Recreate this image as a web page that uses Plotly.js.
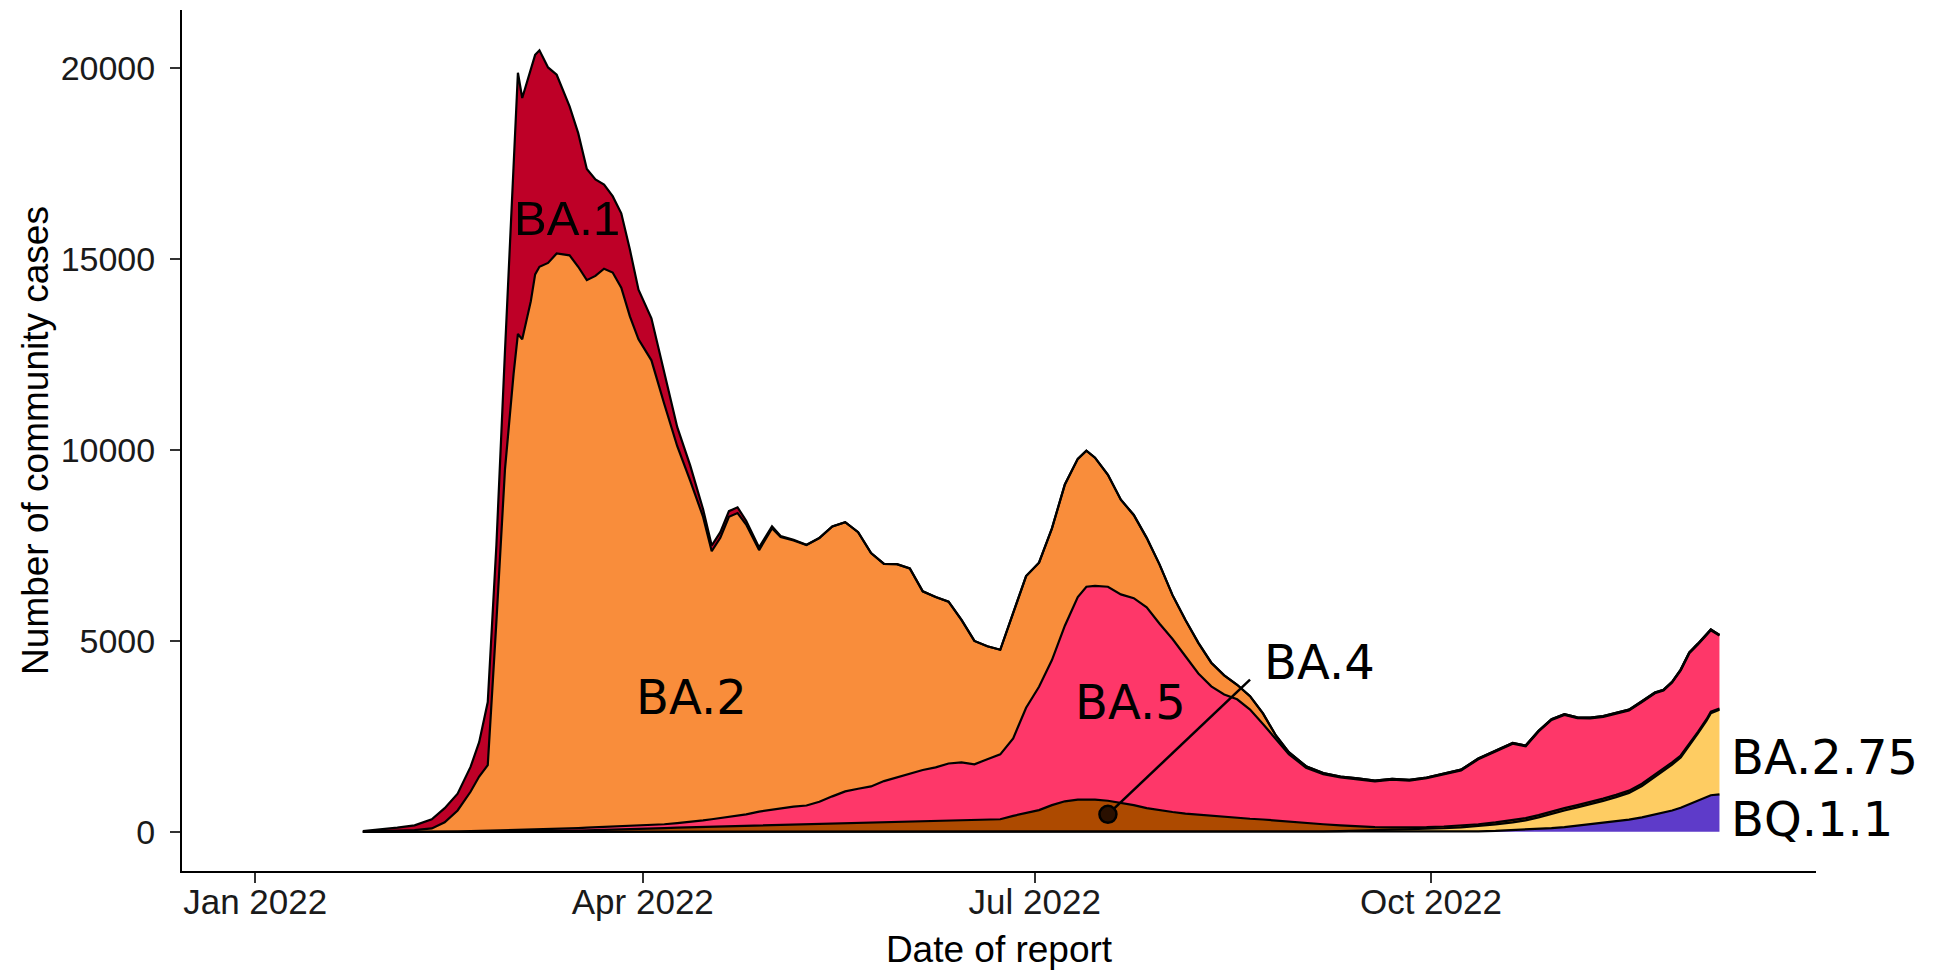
<!DOCTYPE html>
<html>
<head>
<meta charset="utf-8">
<script src="https://cdn.plot.ly/plotly-3.0.1.min.js"></script>
<style>
  html, body { margin: 0; padding: 0; background: #ffffff; }
  #chart { width: 1943px; height: 970px; }
</style>
</head>
<body>
<div id="chart"></div>
<script>
// Date of report (shared by every variant series)
const dates = [
  '2022-01-26','2022-01-30','2022-02-03','2022-02-07','2022-02-11','2022-02-14','2022-02-17','2022-02-20','2022-02-22','2022-02-24',
  '2022-02-26','2022-02-28','2022-03-02','2022-03-03','2022-03-04','2022-03-06','2022-03-07','2022-03-08','2022-03-10','2022-03-12',
  '2022-03-15','2022-03-17','2022-03-19','2022-03-21','2022-03-23','2022-03-25','2022-03-27','2022-03-29','2022-03-31','2022-04-03',
  '2022-04-06','2022-04-09','2022-04-12','2022-04-15','2022-04-17','2022-04-19','2022-04-21','2022-04-23','2022-04-25','2022-04-28',
  '2022-05-01','2022-05-03','2022-05-06','2022-05-09','2022-05-12','2022-05-15','2022-05-18','2022-05-21','2022-05-24','2022-05-27',
  '2022-05-30','2022-06-02','2022-06-05','2022-06-08','2022-06-11','2022-06-14','2022-06-17','2022-06-20','2022-06-23','2022-06-26',
  '2022-06-29','2022-07-02','2022-07-05','2022-07-08','2022-07-11','2022-07-13','2022-07-15','2022-07-18','2022-07-21','2022-07-24',
  '2022-07-27','2022-07-30','2022-08-02','2022-08-05','2022-08-08','2022-08-11','2022-08-14','2022-08-17','2022-08-20','2022-08-23',
  '2022-08-26','2022-08-29','2022-09-02','2022-09-06','2022-09-10','2022-09-14','2022-09-18','2022-09-22','2022-09-26','2022-09-30',
  '2022-10-04','2022-10-08','2022-10-12','2022-10-16','2022-10-20','2022-10-23','2022-10-26','2022-10-29','2022-11-01','2022-11-04',
  '2022-11-07','2022-11-10','2022-11-13','2022-11-16','2022-11-19','2022-11-22','2022-11-24','2022-11-26','2022-11-28','2022-11-30',
  '2022-12-02','2022-12-04','2022-12-05','2022-12-07'
];

// Community cases by variant (stacked, bottom to top: BQ.1.1, BA.2.75, BA.4, BA.5, BA.2, BA.1)
const casesBQ11 = [
  0,0,0,0,0,0,0,0,0,0,
  0,0,0,0,0,0,0,0,0,0,
  0,0,0,0,0,0,0,0,0,0,
  0,0,0,0,0,0,0,0,0,0,
  0,0,0,0,0,0,0,0,0,0,
  0,0,0,0,0,0,0,0,0,0,
  0,0,0,0,0,0,0,0,0,0,
  0,0,0,0,0,0,0,0,0,0,
  0,0,0,0,0,0,0,0,1,3,
  5,10,15,25,45,60,80,100,125,160,
  200,240,280,320,380,450,500,560,630,720,
  810,900,960,980
];
const casesBA275 = [
  0,0,0,0,0,0,0,0,0,0,
  0,0,0,0,0,0,0,0,0,0,
  0,0,0,0,0,0,0,0,0,0,
  0,0,0,0,0,0,0,0,0,0,
  0,0,0,0,0,0,0,0,0,0,
  0,0,0,0,0,0,0,0,0,0,
  0,0,0,0,0,0,0,0,0,0,
  0,0,0,0,0,0,0,2,3,4,
  5,7,10,15,20,30,40,50,60,75,
  90,110,135,170,205,240,300,380,435,480,
  520,570,630,700,820,990,1090,1200,1320,1530,
  1770,2010,2150,2220
];
const casesBA4 = [
  0,0,0,0,0,5,5,8,10,10,
  12,15,15,18,18,20,20,22,25,28,
  32,35,40,45,50,55,60,70,80,90,
  100,112,120,130,135,140,150,155,160,170,
  180,185,192,198,205,215,225,235,245,250,
  255,258,265,275,285,295,305,320,330,420,
  503,570,700,800,845,851,845,815,760,700,
  620,560,520,480,450,420,390,360,340,320,
  290,260,220,185,150,115,85,65,55,45,
  45,45,50,55,60,60,60,60,60,60,
  60,60,60,60,60,60,60,60,50,50,
  40,40,40,30
];
const casesBA5 = [
  0,0,0,0,5,5,10,12,15,20,
  23,25,30,32,32,35,40,38,45,52,
  58,65,70,75,80,85,90,90,90,90,
  100,118,140,170,195,220,240,265,300,360,
  400,435,468,492,585,715,835,895,945,1080,
  1175,1282,1355,1415,1505,1525,1465,1580,1700,2030,
  2747,3230,3800,4600,5305,5569,5595,5605,5460,5420,
  5260,4890,4530,4120,3700,3390,3210,3110,2860,2500,
  2130,1770,1450,1310,1255,1235,1195,1255,1225,1280,
  1360,1445,1700,1860,2000,1880,2190,2390,2440,2280,
  2190,2140,2130,2100,2140,2130,2050,2090,2230,2380,
  2290,2190,2130,1910
];
const casesBA2 = [
  10,20,30,45,85,240,545,1030,1425,1720,
  5465,9460,11955,12990,12850,13845,14540,14740,14830,15070,
  15010,14700,14340,14440,14620,14510,14100,13340,12730,12170,
  11000,9870,8940,7950,7020,7340,7860,7930,7590,6850,
  7370,7100,6970,6820,6905,7070,7050,6720,6110,5690,
  5580,5360,4680,4460,4240,3730,3230,2960,2740,3300,
  3450,3250,3450,3700,3620,3565,3360,2930,2480,2180,
  1820,1550,1150,950,800,620,500,380,350,280,
  100,50,40,30,25,20,20,20,20,20,
  20,20,20,20,20,20,20,20,20,20,
  20,20,20,20,20,20,20,20,20,20,
  20,20,20,20
];
const casesBA1 = [
  10,40,80,125,240,370,440,650,900,1650,
  2000,3100,5200,6840,6320,6100,5750,5670,5120,4680,
  3900,3500,2910,2530,2200,2000,1950,1750,1300,1100,
  800,500,400,200,150,150,150,150,100,70,
  50,30,20,10,5,0,0,0,0,0,
  0,0,0,0,0,0,0,0,0,0,
  0,0,0,0,0,0,0,0,0,0,
  0,0,0,0,0,0,0,0,0,0,
  0,0,0,0,0,0,0,0,0,0,
  0,0,0,0,0,0,0,0,0,0,
  0,0,0,0,0,0,0,0,0,0,
  0,0,0,0
];

const variantNames = ['BQ.1.1','BA.2.75','BA.4','BA.5','BA.2','BA.1'];
const variantColors = ['#5E3BC9','#FECC62','#AD4A00','#FE3769','#F98D3B','#BE0027'];
const variantSeries = [casesBQ11, casesBA275, casesBA4, casesBA5, casesBA2, casesBA1];

// BA.4 label pointer (point inside the BA.4 band and end of the leader line)
const ba4PointX = ['2022-07-18'];
const ba4PointY = [459];
const ba4LeaderX = ['2022-07-18', '2022-08-20'];
const ba4LeaderY = [459, 3985];

// Axis ticks
const xTickVals = ['2022-01-01','2022-04-01','2022-07-01','2022-10-01'];
const xTickText = ['Jan 2022','Apr 2022','Jul 2022','Oct 2022'];
const yTickVals = [0, 5000, 10000, 15000, 20000];
const yTickText = ['0','5000','10000','15000','20000'];

const traces = variantSeries.map((vals, i) => ({
  type: 'scatter',
  mode: 'lines',
  name: variantNames[i],
  x: dates,
  y: vals,
  stackgroup: 'variants',
  fillcolor: variantColors[i],
  line: { color: '#000000', width: 2.2, shape: 'linear' },
  hoverinfo: 'skip',
  showlegend: false
}));

traces.push({
  type: 'scatter',
  mode: 'lines',
  x: ba4LeaderX,
  y: ba4LeaderY,
  line: { color: '#000000', width: 2.5 },
  hoverinfo: 'skip',
  showlegend: false
});
traces.push({
  type: 'scatter',
  mode: 'markers',
  x: ba4PointX,
  y: ba4PointY,
  marker: { size: 17, color: '#2a1000', line: { color: '#000000', width: 2.5 } },
  hoverinfo: 'skip',
  showlegend: false
});

const labelFont = { family: 'DejaVu Sans', size: 48, color: '#000000' };
const axisFont = 'Liberation Sans, Arial, sans-serif';

const layout = {
  width: 1943,
  height: 970,
  paper_bgcolor: '#ffffff',
  plot_bgcolor: '#ffffff',
  margin: { l: 182, r: 127, t: 10, b: 99, pad: 0 },
  font: { family: axisFont, color: '#000000' },
  xaxis: {
    type: 'date',
    range: ['2021-12-15 00:00', '2022-12-29 10:00'],
    tickvals: xTickVals,
    ticktext: xTickText,
    showgrid: false,
    zeroline: false,
    showline: true,
    linecolor: '#000000',
    linewidth: 2,
    ticks: 'outside',
    ticklen: 10,
    tickwidth: 2,
    tickcolor: '#333333',
    ticklabelstandoff: -11,
    tickfont: { family: axisFont, size: 35, color: '#1a1a1a' },
    title: { text: 'Date of report', font: { family: axisFont, size: 37, color: '#000000' }, standoff: 20 },
    automargin: false
  },
  yaxis: {
    range: [-1025, 21525],
    tickvals: yTickVals,
    ticktext: yTickText,
    showgrid: false,
    zeroline: false,
    showline: true,
    linecolor: '#000000',
    linewidth: 2,
    ticks: 'outside',
    ticklen: 10,
    tickwidth: 2,
    tickcolor: '#333333',
    ticklabelstandoff: 8,
    tickfont: { family: axisFont, size: 34, color: '#1a1a1a' },
    title: { text: 'Number of community cases', font: { family: axisFont, size: 37, color: '#000000' }, standoff: 1 },
    automargin: false
  },
  annotations: [
    { text: 'BA.1', x: '2022-03-14 07:00', y: 16065, xref: 'x', yref: 'y', showarrow: false,
      xanchor: 'center', yanchor: 'middle', font: { family: 'Liberation Sans, Arial, sans-serif', size: 49, color: '#000000' } },
    { text: 'BA.2', x: '2022-04-12 05:00', y: 3539, xref: 'x', yref: 'y', showarrow: false,
      xanchor: 'center', yanchor: 'middle', font: labelFont },
    { text: 'BA.5', x: '2022-07-23 07:00', y: 3408, xref: 'x', yref: 'y', showarrow: false,
      xanchor: 'center', yanchor: 'middle', font: labelFont },
    { text: 'BA.4', x: '2022-09-05 05:00', y: 4451, xref: 'x', yref: 'y', showarrow: false,
      xanchor: 'center', yanchor: 'middle', font: labelFont },
    { text: 'BA.2.75', x: '2022-12-09 05:00', y: 1973, xref: 'x', yref: 'y', showarrow: false,
      xanchor: 'left', yanchor: 'middle', font: labelFont },
    { text: 'BQ.1.1', x: '2022-12-09 05:00', y: 343, xref: 'x', yref: 'y', showarrow: false,
      xanchor: 'left', yanchor: 'middle', font: labelFont }
  ]
};

Plotly.newPlot('chart', traces, layout, { displayModeBar: false, staticPlot: true });
</script>
</body>
</html>
